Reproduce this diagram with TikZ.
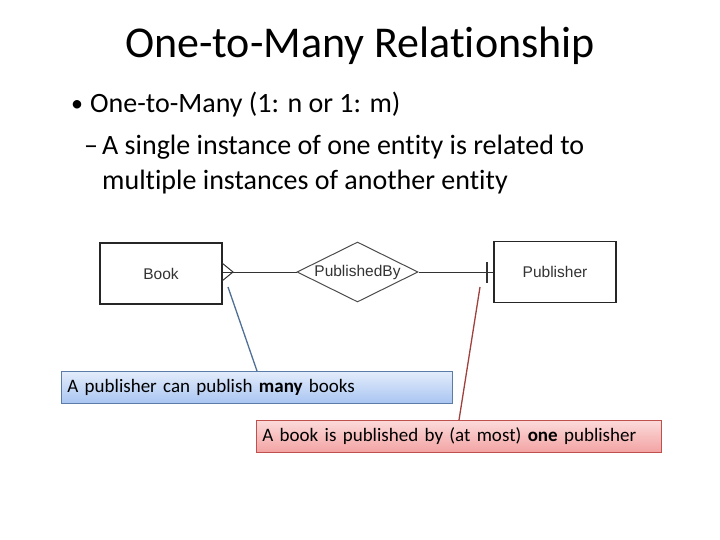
\documentclass[tikz,border=0pt]{standalone}
\usepackage{fontspec}
\setmainfont{Carlito}[RawFeature=-liga]
\newfontfamily\diagfont{Liberation Sans}
\usetikzlibrary{shapes.geometric}
\definecolor{bluefillA}{HTML}{E3ECFB}
\definecolor{bluefillB}{HTML}{A9C5F2}
\definecolor{blueline}{HTML}{5A7CA6}
\definecolor{redfillA}{HTML}{FCDADA}
\definecolor{redfillB}{HTML}{F3A3A3}
\definecolor{redline}{HTML}{C0504D}
\definecolor{redconn}{HTML}{A0403C}
\definecolor{blueconn}{HTML}{4F6F96}
\definecolor{ertext}{HTML}{333333}
\tikzset{
  entity/.style={draw=black!85, line width=1.2pt, minimum width=122pt, minimum height=61pt, inner sep=0pt, font=\diagfont\fontsize{15.5}{18}\selectfont, text=ertext},
  relation/.style={draw=black!70, line width=1pt, diamond, aspect=2, minimum width=121pt, minimum height=60pt, inner sep=0pt, font=\diagfont\fontsize{15.5}{18}\selectfont, text=ertext},
  erline/.style={draw=black!80, line width=1pt},
  notebase/.style={line width=0.8pt, minimum height=32pt, inner xsep=6pt, inner ysep=0pt, align=left, anchor=north west, font=\fontsize{19}{22}\selectfont},
  bluenote/.style={notebase, draw=blueline, top color=bluefillA, bottom color=bluefillB, text width=379pt},
  rednote/.style={notebase, draw=redline, top color=redfillA, bottom color=redfillB, text width=393pt},
  bodytext/.style={anchor=base west, inner sep=0pt, font=\fontsize{28}{32}\selectfont},
}
\begin{document}
\begin{tikzpicture}[x=1pt, y=-1pt]
\useasboundingbox (0,0) rectangle (720,540);
% title and bullets
\node (title) at (360,46) {\fontsize{44}{48}\selectfont One-to-Many Relationship};
\node[bodytext, font=\fontsize{24}{28}\selectfont] (b1) at (71,112) {\textbullet};
\node[bodytext] (t1) at (90,113) {One-to-Many (1: n or 1: m)};
\node[bodytext] (b2) at (84,155) {--};
\node[bodytext] (t2) at (102,155) {A single instance of one entity is related to};
\node[bodytext] (t3) at (102,190) {multiple instances of another entity};
% ER diagram
\node[entity] (book) at (161,273.5) {Book};
\node[relation] (rel) at (357.5,272) {PublishedBy};
\node[entity] (pub) at (555,272) {Publisher};
\coordinate (cf) at (233,272);
\draw[erline] (book.east |- cf) -- (rel.west);
\draw[erline] (222,263) -- (cf) -- (222,281);
\draw[erline] (rel.east) -- (pub.west);
\coordinate (tickT) at (487,262);
\coordinate (tickB) at (487,283);
\draw[erline, line width=1.3pt] (tickT) -- (tickB);
% notes
\node[bluenote] (n1) at (61,371) {A publisher can publish \textbf{many} books};
\node[rednote] (n2) at (256,420) {A book is published by (at most) \textbf{one} publisher};
\coordinate (p1) at (228,287);
\coordinate (p2) at (480,287);
\draw[blueconn, line width=1.3pt] (257,371) -- (p1);
\draw[redconn, line width=1.3pt] (459,420) -- (p2);
\end{tikzpicture}
\end{document}
